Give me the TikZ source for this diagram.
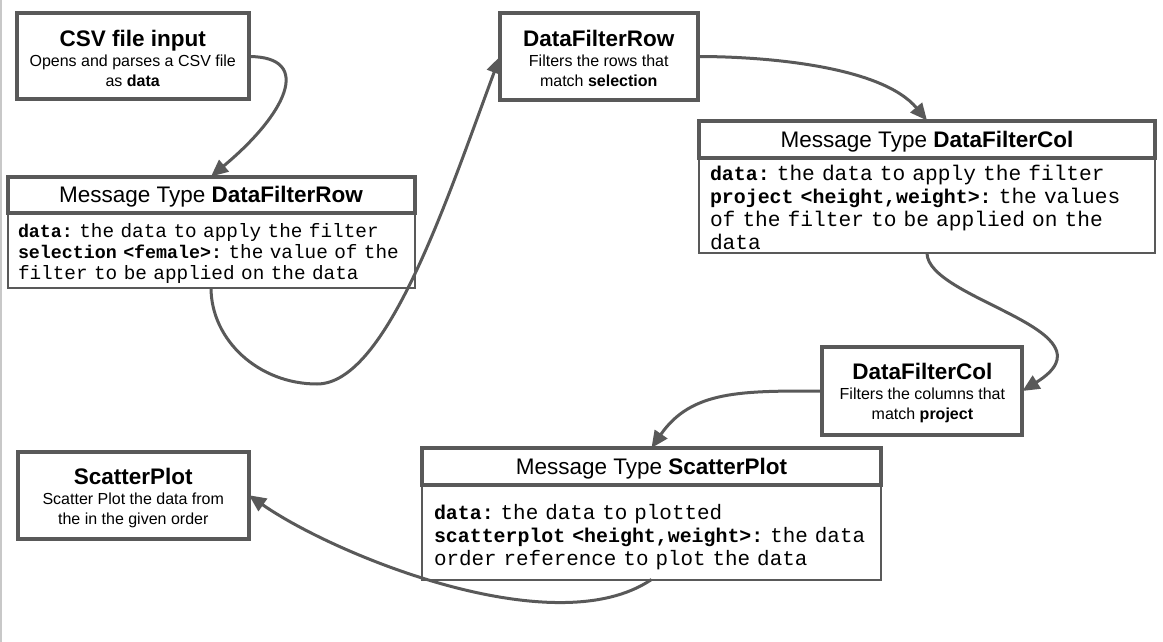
\documentclass[tikz,border=0pt]{standalone}
\usepackage{fontspec}
\setmainfont{Liberation Sans}
\newfontfamily\monofam{Liberation Mono}
\usetikzlibrary{positioning}
\usetikzlibrary{arrows.meta}

\definecolor{boxgray}{HTML}{595959}
\definecolor{framegray}{HTML}{C8C8C8}

\newcommand{\bigtxt}{\fontsize{22.5}{26}\selectfont}
\newcommand{\smalltxt}{\fontsize{16}{20}\selectfont}
% mono text: regular size, bold size, line skip
\newcommand{\kwsize}{18}
\newcommand{\codefont}[3]{\monofam\fontsize{#1}{#3}\selectfont\frenchspacing
    \renewcommand{\kwsize}{#2}}
\newcommand{\kw}[1]{{\fontsize{\kwsize}{20}\selectfont\bfseries #1}}
\newcommand{\codetxt}{\codefont{19.35}{18.3}{21}}
\newcommand{\codebig}{\codefont{21.2}{19.9}{23}}
\newcommand{\codeplot}{\codefont{20.9}{19.9}{23}}
\newcommand{\boxtitle}[1]{{\bigtxt\rule{0pt}{21pt}\textbf{#1}}}
\newcommand{\lift}[1]{\rule{0pt}{#1}}

\tikzset{
    procbox/.style = {draw=boxgray, line width=4pt, fill=white, align=center,
                      font=\smalltxt, inner sep=0pt, outer sep=0pt},
    msgtitle/.style = {draw=boxgray, line width=4pt, fill=white, font=\bigtxt,
                       text height=16pt, text depth=0pt, inner sep=0pt, outer sep=0pt},
    msgbody/.style = {draw=boxgray, line width=2pt, fill=white, align=left,
                      inner xsep=11pt, inner ysep=0pt, outer sep=0pt},
    flow/.style = {draw=boxgray, line width=3pt, -{Triangle[length=17pt,width=15pt]}},
}

\begin{document}
\begin{tikzpicture}[x=1pt, y=1pt]

    \useasboundingbox (0,0) rectangle (1163,-642);
    \draw[framegray, line width=1.5pt] (0.75,0) -- (0.75,-642);

    %Filters
    \node[procbox, minimum width=231.5, minimum height=86] (CSVInput) at (132.75,-56.5)
        {\boxtitle{CSV file input}\\ Opens and parses a CSV file\\ as \textbf{data}};

    \node[procbox, minimum width=197.5, minimum height=86.5] (RowFilter) at (598.75,-56.5)
        {\boxtitle{DataFilterRow}\\ Filters the rows that\\ match \textbf{selection}};

    \node[procbox, minimum width=200, minimum height=88] (ColFilter) at (922.4,-391)
        {\boxtitle{DataFilterCol}\\ Filters the columns that\\ match \textbf{project}};

    \node[procbox, minimum width=231.5, minimum height=87.5] (ScatterPlot) at (133.25,-495.25)
        {\boxtitle{ScatterPlot}\\ Scatter Plot the data from\\ the in the given order};

    %Messages
    \node[msgbody, minimum width=407, minimum height=75, text width=386, inner xsep=10.5pt, font=\codetxt]
        (RowMsgBody) at (211,-250)
        {\lift{21pt}\mbox{\kw{data:} the data to apply the filter}\\
         \mbox{\kw{selection <female>:} the value of the}\\
         \mbox{filter to be applied on the data}};
    \node[msgtitle, minimum width=407, minimum height=36, above = 0pt of RowMsgBody]
        (RowMsgTitle) {Message Type \textbf{DataFilterRow}};

    \node[msgbody, minimum width=456, minimum height=95.5, text width=434, font=\codebig]
        (ColMsgBody) at (927,-205.25)
        {\lift{20.5pt}\mbox{\kw{data:} the data to apply the filter}\\
         \mbox{\kw{project <height,weight>:} the values}\\
         \mbox{of the filter to be applied on the}\\
         data};
    \node[msgtitle, minimum width=456, minimum height=37, above = 0pt of ColMsgBody]
        (ColMsgTitle) {Message Type \textbf{DataFilterCol}};

    \node[msgbody, minimum width=459, minimum height=94.5, text width=435, inner xsep=12pt, font=\codeplot]
        (PlotMsgBody) at (651.5,-532.25)
        {\lift{24.5pt}\mbox{\kw{data:} the data to plotted}\\
         \mbox{\kw{scatterplot <height,weight>:} the data}\\
         \mbox{order reference to plot the data}};
    \node[msgtitle, minimum width=459, minimum height=37, above = 0pt of PlotMsgBody]
        (PlotMsgTitle) {Message Type \textbf{ScatterPlot}};

    \coordinate (RowLoop) at (317,-384);

    %-------------------------------------------
    %Flow
    \draw[flow] (CSVInput.east) .. controls +(66.5,0) and +(74,61.5) .. (RowMsgTitle.north);
    \draw[flow] (RowMsgBody.south) .. controls +(0,-53) and +(-58,0) .. (RowLoop)
                .. controls +(70,0) and +(-52.5,-141) .. (RowFilter.west);
    \draw[flow] (RowFilter.east) .. controls +(70,0) and +(-45,54) .. (ColMsgTitle.north);
    \draw[flow] (ColMsgBody.south) .. controls +(0,-47) and +(98,61) .. (ColFilter.east);
    \draw[flow] (ColFilter.west) .. controls +(-80,0) and +(40,58) .. (PlotMsgTitle.north);
    \draw[flow] (PlotMsgBody.south) .. controls +(-96.5,-65.5) and +(86,-60) .. (ScatterPlot.east);

\end{tikzpicture}
\end{document}
